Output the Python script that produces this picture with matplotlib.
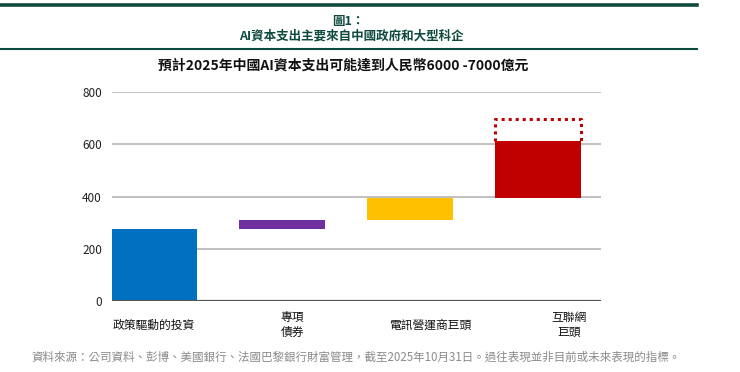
import matplotlib
matplotlib.use("Agg")
import matplotlib.pyplot as plt
from matplotlib.lines import Line2D

plt.rcParams['font.family'] = ['Noto Sans CJK TC', 'DejaVu Sans']

# ---- data ----
categories = ['政策驅動的投資', '專項\n債券', '電訊營運商巨頭', '互聯網\n巨頭']
bar_low = [0, 275, 312, 395]
bar_high = [275, 312, 395, 612]
upper_estimate = 695          # dotted upper range for internet giants
bar_colors = ['#0070C0', '#7030A0', '#FFC000', '#C00000']
y_ticks = [0, 200, 400, 600, 800]

fig_title = '圖1：'
fig_subtitle = 'AI資本支出主要來自中國政府和大型科企'
chart_title = '預計2025年中國AI資本支出可能達到人民幣6000 -7000億元'
footnote = '資料來源：公司資料、彭博、美國銀行、法國巴黎銀行財富管理，截至2025年10月31日。過往表現並非目前或未來表現的指標。'

W, H = 740, 372
fig = plt.figure(figsize=(W / 100, H / 100), dpi=100)
fig.patch.set_facecolor('white')

green = '#0f4a3e'
# top decorative lines
fig.add_artist(Line2D([0, 697 / W], [1 - 5 / H, 1 - 5 / H], color=green, lw=2.6,
                      transform=fig.transFigure))
fig.add_artist(Line2D([0, 697 / W], [1 - 49 / H, 1 - 49 / H], color=green, lw=1.5,
                      transform=fig.transFigure))
fig.text(348 / W, 1 - 21 / H, fig_title, ha='center', va='center', fontsize=9,
         color=green, fontweight='bold')
fig.text(351 / W, 1 - 36 / H, fig_subtitle, ha='center', va='center', fontsize=9,
         color=green, fontweight='bold')
fig.text(343 / W, 1 - 66 / H, chart_title, ha='center', va='center', fontsize=10,
         color='#111111', fontweight='bold')
fig.text(31 / W, 1 - 357 / H, footnote, ha='left', va='center', fontsize=8.3,
         color='#8a8a8a', style='italic')

# axes
left, right = 111.7 / W, 600.7 / W
bottom, top = (H - 301.3) / H, (H - 92) / H
ax = fig.add_axes([left, bottom, right - left, top - bottom])

x = list(range(len(categories)))
width = 0.665
heights = [h - l for l, h in zip(bar_low, bar_high)]

ax.bar(x, heights, bottom=bar_low, width=width, color=bar_colors,
       edgecolor='none', zorder=3)

# dotted upper estimate outline (open at the bottom, resting on the red bar)
xl, xr = x[3] - width / 2, x[3] + width / 2
ax.plot([xl, xl, xr, xr], [bar_high[3], upper_estimate, upper_estimate, bar_high[3]],
        color=bar_colors[3], linestyle=(0, (1, 1.3)), linewidth=2.2,
        solid_joinstyle='round', zorder=2)

ax.set_xlim(-0.33, 3.49)
ax.set_ylim(0, 800)
ax.set_yticks(y_ticks)
ax.set_yticklabels([str(v) for v in y_ticks])
for v in y_ticks:
    if v == 0:
        ax.axhline(v, color='#555555', lw=1.6, zorder=4)
    else:
        ax.axhline(v, color='#c0c0c0', lw=1.4, zorder=1)

label_pos = [0, 1.08, 2.16, 3.24]
ax.set_xticks(label_pos)
ax.set_xticklabels(categories, fontsize=8.5, color='#111111', linespacing=1.25)
for lab in ax.get_xticklabels():
    lab.set_verticalalignment('center')
ax.tick_params(axis='x', length=0, pad=17)
ax.tick_params(axis='y', length=0, pad=7, labelsize=8.5, labelcolor='#222222')
for s in ax.spines.values():
    s.set_visible(False)

fig.savefig('out.png', dpi=100, facecolor='white')
